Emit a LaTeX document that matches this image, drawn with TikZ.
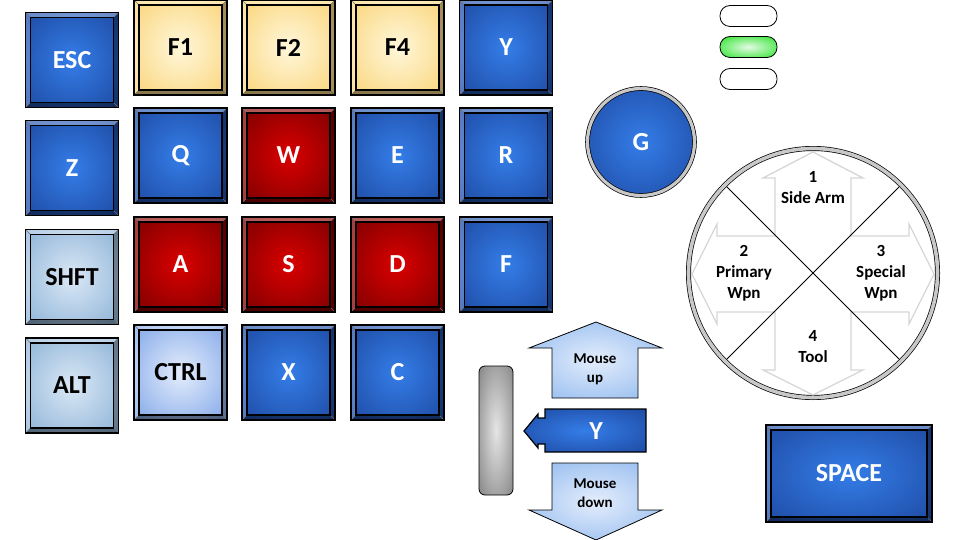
\documentclass[tikz,border=0pt]{standalone}
\usepackage{fontspec}
\setmainfont{Carlito}

\definecolor{bluein}{RGB}{52,125,232}
\definecolor{blueout}{RGB}{30,74,162}
\definecolor{redin}{RGB}{218,0,0}
\definecolor{redout}{RGB}{122,0,0}
\definecolor{goldin}{RGB}{255,247,218}
\definecolor{goldout}{RGB}{250,212,120}
\definecolor{icein}{RGB}{218,232,246}
\definecolor{iceout}{RGB}{140,178,214}
\definecolor{ctrlin}{RGB}{228,237,252}
\definecolor{ctrlout}{RGB}{128,166,232}
\definecolor{mousein}{RGB}{228,237,252}
\definecolor{mouseout}{RGB}{142,184,238}
\definecolor{ledin}{RGB}{228,250,228}
\definecolor{ledout}{RGB}{40,228,40}
\definecolor{ring}{RGB}{200,200,200}
\definecolor{ghost}{RGB}{214,214,214}

\makeatletter
\pgfdeclareradialshading[tikz@radial@inner,tikz@radial@outer]{keyglow}{\pgfpoint{0bp}{0bp}}%
  {color(0bp)=(tikz@radial@inner); color(36bp)=(tikz@radial@outer); color(50bp)=(tikz@radial@outer)}
\makeatother

% bevelled edge of a key
\newcommand\keybevel{%
  \path (path picture bounding box.north west) coordinate (k1)
        (path picture bounding box.north east) coordinate (k2)
        (path picture bounding box.south east) coordinate (k3)
        (path picture bounding box.south west) coordinate (k4)
        ([shift={(5pt,-5pt)}]k1) coordinate (i1)
        ([shift={(-5pt,-5pt)}]k2) coordinate (i2)
        ([shift={(-5pt,5pt)}]k3) coordinate (i3)
        ([shift={(5pt,5pt)}]k4) coordinate (i4);
  \fill[white, opacity=.35] (k1) -- (k2) -- (i2) -- (i1) -- cycle;
  \fill[white, opacity=.25] (k1) -- (i1) -- (i4) -- (k4) -- cycle;
  \fill[black, opacity=.35] (k2) -- (k3) -- (i3) -- (i2) -- cycle;
  \fill[black, opacity=.45] (k3) -- (k4) -- (i4) -- (i3) -- cycle;
  \draw[line width=.4pt, black!55] (k1) -- (i1) (k2) -- (i2) (k3) -- (i3) (k4) -- (i4);
  \draw[line width=1.2pt] (i1) rectangle (i3);}

\begin{document}
\begin{tikzpicture}[x=1pt, y=-1pt,
  key/.style={draw, line width=1.5pt, minimum width=93pt, minimum height=95pt, inner sep=0pt,
              font=\bfseries\fontsize{26}{28}\selectfont, path picture={\keybevel}},
  bluekey/.style={inner color=bluein, outer color=blueout, shading=keyglow, text=white},
  redkey/.style={inner color=redin, outer color=redout, shading=keyglow, text=white},
  goldkey/.style={inner color=goldin, outer color=goldout, shading=keyglow},
  icekey/.style={inner color=icein, outer color=iceout, shading=keyglow},
  ctrlkey/.style={inner color=ctrlin, outer color=ctrlout, shading=keyglow},
  led/.style={draw, line width=.8pt, rounded corners=10pt, minimum width=57pt, minimum height=21pt},
  ringed/.style={circle, draw, line width=.7pt, double=ring, double distance=3.2pt},
  slot/.style={font=\bfseries\fontsize{17}{21}\selectfont, align=center},
  mouse/.style={draw, line width=.8pt, inner color=mousein, outer color=mouseout, shading=keyglow},
  mtext/.style={font=\bfseries\fontsize{15}{19}\selectfont, align=center}
]
  \useasboundingbox (0,0) rectangle (960,540);

  % Left column
  \node[key, bluekey] (esc) at (72,60) {ESC};
  \node[key, bluekey] (z) at (72,168) {Z};
  \node[key, icekey] (shft) at (72,277) {SHFT};
  \node[key, icekey] (alt) at (72,385.5) {ALT};

  % Function row
  \node[key, goldkey] (f1) at (180.5,47.5) {F1};
  \node[key, goldkey] (f2) at (288.5,47.5) {F2};
  \node[key, goldkey] (f4) at (397.5,47.5) {F4};
  \node[key, bluekey] (y) at (506,47.5) {Y};

  % Q W E R
  \node[key, bluekey] (q) at (180.5,155.5) {Q};
  \node[key, redkey] (w) at (288.5,155.5) {W};
  \node[key, bluekey] (e) at (397.5,155.5) {E};
  \node[key, bluekey] (r) at (506,155.5) {R};

  % A S D F
  \node[key, redkey] (a) at (180.5,264.5) {A};
  \node[key, redkey] (s) at (288.5,264.5) {S};
  \node[key, redkey] (d) at (397.5,264.5) {D};
  \node[key, bluekey] (f) at (506,264.5) {F};

  % CTRL X C
  \node[key, ctrlkey] (ctrl) at (180.5,372.5) {CTRL};
  \node[key, bluekey] (x) at (288.5,372.5) {X};
  \node[key, bluekey] (c) at (397.5,372.5) {C};

  % Space bar
  \node[key, bluekey, minimum width=166pt, minimum height=97pt] (space) at (849,473.5) {SPACE};

  % Status lights
  \node[led, fill=white] (led1) at (748.5,16) {};
  \node[led, inner color=ledin, outer color=ledout, shading=keyglow] (led2) at (748.5,47) {};
  \node[led, fill=white] (led3) at (748.5,79) {};

  % G button
  \node[ringed, minimum size=107pt, inner color=bluein, outer color=blueout, shading=keyglow,
        text=white, font=\bfseries\fontsize{26}{28}\selectfont] (g) at (641,142) {G};

  % Weapon wheel
  \node[ringed, double distance=3.6pt, minimum size=249pt, fill=white] (wheel) at (813,273) {};
  \draw[ghost, line width=1.3pt] (wheel.center)
    ++(0,-121) -- ++(50,26) -- ++(-12,0) -- ++(0,58) -- ++(58,0) -- ++(0,-12) -- ++(25,50)
    -- ++(-25,50) -- ++(0,-12) -- ++(-58,0) -- ++(0,58) -- ++(12,0) -- ++(-50,25)
    -- ++(-50,-25) -- ++(12,0) -- ++(0,-58) -- ++(-58,0) -- ++(0,12) -- ++(-25,-50)
    -- ++(25,-50) -- ++(0,12) -- ++(58,0) -- ++(0,-58) -- ++(-12,0) -- cycle;
  \draw[line width=.8pt] (wheel.center) +(45:122) -- +(225:122);
  \draw[line width=.8pt] (wheel.center) +(135:122) -- +(315:122);
  \node[slot] (slot1) at (813,188) {1\\Side Arm};
  \node[slot] (slot2) at (744,273) {2\\Primary\\Wpn};
  \node[slot] (slot3) at (881,273) {3\\Special\\Wpn};
  \node[slot] (slot4) at (813,347) {4\\Tool};

  % Mouse wheel
  \node[draw, line width=.8pt, rounded corners=6pt, minimum width=34pt, minimum height=129pt,
        inner color=black!10, outer color=black!48, shading=keyglow] (scroll) at (496,430.5) {};
  \path[mouse] (596,322) -- (662,348) -- (638,348) -- (638,398) -- (552,398) -- (552,348)
    -- (529,348) -- cycle;
  \node[mtext] (mup) at (595,369) {Mouse\\up};
  \path[mouse] (552,463) -- (638,463) -- (638,510) -- (662,510) -- (596,540) -- (529,510)
    -- (552,510) -- cycle;
  \node[mtext] (mdown) at (595,493) {Mouse\\down};
  \path[draw, line width=1.2pt, inner color=bluein, outer color=blueout, shading=keyglow]
    (646,409) -- (545,409) -- (545,418) -- (538,418) -- (538,414) -- (524,431) -- (538,448)
    -- (538,444) -- (545,444) -- (545,452) -- (646,452) -- cycle;
  \node[text=white, font=\bfseries\fontsize{26}{28}\selectfont] (ybtn) at (596,431) {Y};
\end{tikzpicture}
\end{document}
